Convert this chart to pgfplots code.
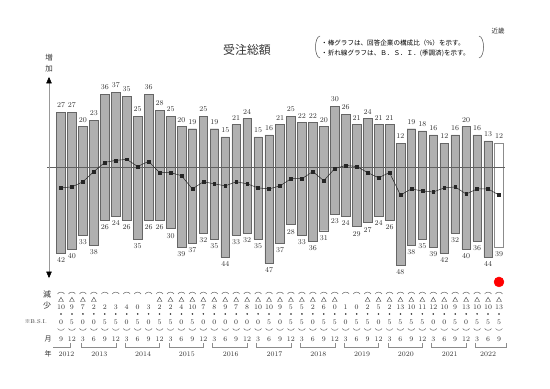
\documentclass[border=0pt]{standalone}
\usepackage{pgfplots}
\pgfplotsset{compat=1.18}
\usepackage{pgfplotstable}
\usepackage{fontspec}
\newfontfamily\jp{Noto Sans CJK JP}
\usetikzlibrary{arrows.meta}

\pgfdeclareplotmark{frown}{%
  \pgfpathmoveto{\pgfqpoint{-3.4bp}{-1bp}}%
  \pgfpathcurveto{\pgfqpoint{-2.4bp}{1.4bp}}{\pgfqpoint{2.4bp}{1.4bp}}{\pgfqpoint{3.4bp}{-1bp}}%
  \pgfusepathqstroke}
\pgfdeclareplotmark{smile}{%
  \pgfpathmoveto{\pgfqpoint{-3.4bp}{1bp}}%
  \pgfpathcurveto{\pgfqpoint{-2.4bp}{-1.4bp}}{\pgfqpoint{2.4bp}{-1.4bp}}{\pgfqpoint{3.4bp}{1bp}}%
  \pgfusepathqstroke}

% i = quarter index (0 = 2012/9), up = increase %, down = decrease %, bsi = B.S.I. (seasonally adjusted)
\pgfplotstableread{
i up down bsi ip dp mon
0 27 42 -10.0 10 0 9
1 27 40 -9.5 9 5 12
2 20 33 -7.0 7 0 3
3 23 38 -2.0 2 0 6
4 36 26 2.5 2 5 9
5 37 24 3.5 3 5 12
6 35 26 4.0 4 0 3
7 25 35 0.5 0 5 6
8 36 26 3.0 3 0 9
9 28 26 -2.5 2 5 12
10 25 30 -2.5 2 5 3
11 20 39 -4.0 4 0 6
12 19 37 -10.5 10 5 9
13 25 32 -7.0 7 0 12
14 19 35 -8.0 8 0 3
15 15 44 -9.0 9 0 6
16 21 33 -7.0 7 0 9
17 24 32 -8.0 8 0 12
18 15 35 -10.0 10 0 3
19 16 47 -10.5 10 5 6
20 21 37 -9.0 9 0 9
21 25 28 -5.5 5 5 12
22 22 33 -5.5 5 5 3
23 22 36 -2.0 2 0 6
24 20 31 -6.5 6 5 9
25 30 23 -0.5 0 5 12
26 26 24 1.0 1 0 3
27 21 29 0.5 0 5 6
28 24 27 -2.5 2 5 9
29 21 24 -5.0 5 0 12
30 21 26 -2.5 2 5 3
31 12 48 -13.5 13 5 6
32 19 38 -10.5 10 5 9
33 18 35 -11.5 11 5 12
34 16 39 -12.0 12 0 3
35 12 42 -10.0 10 0 6
36 16 32 -9.5 9 5 9
37 20 40 -13.0 13 0 12
38 16 36 -10.5 10 5 3
39 13 44 -10.5 10 5 6
40 12 39 -13.5 13 5 9
}\data

\pgfplotstableread{
x yr
0.5 2012
3.5 2013
7.5 2014
11.5 2015
15.5 2016
19.5 2017
23.5 2018
27.5 2019
31.5 2020
35.5 2021
39 2022
}\years

\pgfplotstableread{
x y
-0.7 -88
0.85 -88
0.85 -86
nan nan
1.85 -86
1.85 -88
5.0 -88
5.0 -86
nan nan
5.85 -86
5.85 -88
9.0 -88
9.0 -86
nan nan
9.85 -86
9.85 -88
13.0 -88
13.0 -86
nan nan
13.85 -86
13.85 -88
17.0 -88
17.0 -86
nan nan
17.85 -86
17.85 -88
21.0 -88
21.0 -86
nan nan
21.85 -86
21.85 -88
25.0 -88
25.0 -86
nan nan
25.85 -86
25.85 -88
29.0 -88
29.0 -86
nan nan
29.85 -86
29.85 -88
33.0 -88
33.0 -86
nan nan
33.85 -86
33.85 -88
37.0 -88
37.0 -86
nan nan
37.85 -86
37.85 -88
40.7 -88
40.7 -86
}\brackets

\begin{document}
\begin{tikzpicture}
\begin{axis}[
  scale only axis, width=550bp, height=389bp,
  xmin=-5.571, xmax=44.658, ymin=-108.58, ymax=82.11,
  axis lines=none, xtick=\empty, ytick=\empty,
  clip=false,
  unbounded coords=jump,
]
% bars: increase part (above zero) and decrease part (below zero)
\addplot[ybar, bar shift=0pt, bar width=8.6bp, fill=black!31, draw=black!60, line width=0.45pt,
  restrict x to domain=-1:39.5,
  nodes near coords, point meta=explicit symbolic,
  every node near coord/.append style={anchor=south, inner sep=0pt, yshift=4.2bp,
     font=\fontsize{7.5}{8}\selectfont, text=black!80}]
  table[x=i, y=up, meta=up] {\data};
\addplot[ybar, bar shift=0pt, bar width=8.6bp, fill=black!31, draw=black!60, line width=0.45pt,
  restrict x to domain=-1:39.5,
  nodes near coords, point meta=explicit symbolic,
  every node near coord/.append style={anchor=north, inner sep=0pt, yshift=-4.2bp,
     font=\fontsize{7.5}{8}\selectfont, text=black!80}]
  table[x=i, y expr=-\thisrow{down}, meta=down] {\data};
% last quarter (forecast): white bar
\addplot[ybar, bar shift=0pt, bar width=8.6bp, fill=white, draw=black!45, line width=0.45pt,
  restrict x to domain=39.5:41,
  nodes near coords, point meta=explicit symbolic,
  every node near coord/.append style={anchor=south, inner sep=0pt, yshift=4.2bp,
     font=\fontsize{7.5}{8}\selectfont, text=black!80}]
  table[x=i, y=up, meta=up] {\data};
\addplot[ybar, bar shift=0pt, bar width=8.6bp, fill=white, draw=black!45, line width=0.45pt,
  restrict x to domain=39.5:41,
  nodes near coords, point meta=explicit symbolic,
  every node near coord/.append style={anchor=north, inner sep=0pt, yshift=-4.2bp,
     font=\fontsize{7.5}{8}\selectfont, text=black!80}]
  table[x=i, y expr=-\thisrow{down}, meta=down] {\data};

% zero line
\draw[black!62, line width=0.6pt] (axis cs:-1.3,0) -- (axis cs:40.55,0);
% vertical arrow
\draw[black!40, line width=0.5pt,
  {Triangle[width=5.5bp,length=6.5bp,color=black]}-{Triangle[width=5.5bp,length=6.5bp,color=black]}]
  (axis cs:-1.096,-54.2) -- (axis cs:-1.096,44.4);

% B.S.I. line
\addplot[black!85, line width=0.5pt, mark=square*, mark size=1.4bp,
  mark options={fill=black!85, draw=black!85}]
  table[x=i, y=bsi] {\data};

% red dot
\addplot[only marks, mark=*, mark size=5bp, color=red, mark options={fill=red, draw=red}]
  coordinates {(40,-56.1)};

% table below the chart
\addplot[only marks, mark=frown, mark options={black!60, line width=0.5pt}]
  table[x=i, y expr=-61.5] {\data};
\addplot[only marks, mark=triangle, mark size=2.8bp, mark options={black!70, line width=0.45pt},
  restrict y to domain=-70:-60]
  table[x=i, y expr={\thisrow{bsi}<0 ? -65.0 : -200}] {\data};
\addplot[only marks, mark=none, nodes near coords, point meta=explicit symbolic,
  every node near coord/.append style={anchor=center, inner sep=0pt,
     font=\fontsize{7}{8}\selectfont, text=black!80}]
  table[x=i, y expr=-68.4, meta=ip] {\data};
\addplot[only marks, mark=*, mark size=0.6bp, black!75]
  table[x=i, y expr=-71.8] {\data};
\addplot[only marks, mark=none, nodes near coords, point meta=explicit symbolic,
  every node near coord/.append style={anchor=center, inner sep=0pt,
     font=\fontsize{7}{8}\selectfont, text=black!80}]
  table[x=i, y expr=-75.7, meta=dp] {\data};
\addplot[only marks, mark=smile, mark options={black!60, line width=0.5pt}]
  table[x=i, y expr=-79.4] {\data};
\addplot[only marks, mark=none, nodes near coords, point meta=explicit symbolic,
  every node near coord/.append style={anchor=center, inner sep=0pt,
     font=\fontsize{7}{8}\selectfont, text=black!80}]
  table[x=i, y expr=-84.1, meta=mon] {\data};
\addplot[black!45, line width=0.5pt] table[x=x, y=y] {\brackets};
\addplot[only marks, mark=none, nodes near coords, point meta=explicit symbolic,
  every node near coord/.append style={anchor=center, inner sep=0pt,
     font=\fontsize{7}{8}\selectfont, text=black!80}]
  table[x=x, y expr=-91.4, meta=yr] {\years};
\end{axis}

% texts
\node[font=\jp\fontsize{12}{13}\selectfont, text=black!80] at (247bp,339bp) {受注総額};
\node[font=\jp\fontsize{6.6}{7}\selectfont, anchor=west, inner sep=0pt, text=black] at (321bp,345.5bp)
  {・棒グラフは、回答企業の構成比（\%）を示す。};
\node[font=\jp\fontsize{6.6}{7}\selectfont, anchor=west, inner sep=0pt, text=black] at (321bp,335.5bp)
  {・折れ線グラフは、Ｂ．Ｓ．Ｉ．(季調済)を示す。};
\draw[black!70, line width=0.5pt] (320bp,353bp) .. controls (314bp,352bp) and (314bp,332bp) .. (320bp,331bp);
\draw[black!70, line width=0.5pt] (479bp,353bp) .. controls (485bp,352bp) and (485bp,332bp) .. (479bp,331bp);
\node[font=\jp\fontsize{6.5}{7}\selectfont, text=black!80] at (498bp,358bp) {近畿};
\node[font=\jp\fontsize{7.5}{8}\selectfont, text=black!80] at (49bp,331bp) {増};
\node[font=\jp\fontsize{7.5}{8}\selectfont, text=black!80] at (49bp,320bp) {加};
\node[font=\jp\fontsize{8}{9}\selectfont, text=black!85] at (47bp,95bp) {減};
\node[font=\jp\fontsize{8}{9}\selectfont, text=black!85] at (47bp,84bp) {少};
\node[font=\fontsize{5.5}{6}\selectfont, text=black!80] at (36bp,67bp) {{\jp ※}B.S.I.};
\node[font=\jp\fontsize{7}{8}\selectfont, text=black!80] at (48bp,50bp) {月};
\node[font=\jp\fontsize{7}{8}\selectfont, text=black!80] at (48bp,35bp) {年};
\pgfresetboundingbox
\path (0,0) rectangle (550bp,389bp);
\end{tikzpicture}
\end{document}
